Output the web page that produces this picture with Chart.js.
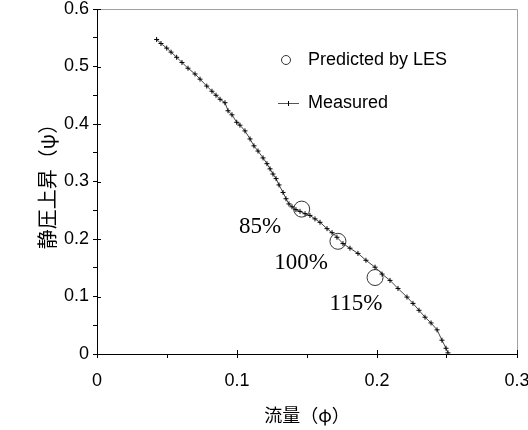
<!DOCTYPE html>
<html>
<head>
<meta charset="utf-8">
<script src="https://cdn.jsdelivr.net/npm/chart.js@4.4.0/dist/chart.umd.min.js"></script>
<style>
  html, body { margin: 0; padding: 0; background: #fff; }
</style>
</head>
<body>
<canvas id="chart" width="528" height="430"></canvas>
<script>
// measured characteristic, flow (phi) vs static pressure rise (psi)
const measuredFlow = [
  0.0426, 0.0457, 0.0498, 0.0529, 0.0569, 0.0607, 0.0650, 0.0700, 0.0736, 0.0784,
  0.0821, 0.0850, 0.0879, 0.0914, 0.0936, 0.0964, 0.0998, 0.1021, 0.1057, 0.1093,
  0.1121, 0.1150, 0.1186, 0.1214, 0.1236, 0.1257, 0.1279, 0.1300, 0.1329, 0.1350,
  0.1371, 0.1393, 0.1421, 0.1450, 0.1486, 0.1521, 0.1557, 0.1593, 0.1643, 0.1679,
  0.1714, 0.1757, 0.1807, 0.1864, 0.1921, 0.1986, 0.2036, 0.2093, 0.2150, 0.2214,
  0.2257, 0.2300, 0.2343, 0.2386, 0.2429, 0.2464, 0.2493, 0.2507,
];
const measuredRise = [
  0.547, 0.540, 0.532, 0.525, 0.516, 0.507, 0.497, 0.487, 0.478, 0.466,
  0.457, 0.450, 0.443, 0.437, 0.423, 0.416, 0.403, 0.398, 0.388, 0.374,
  0.362, 0.353, 0.341, 0.331, 0.322, 0.313, 0.305, 0.294, 0.281, 0.270,
  0.261, 0.256, 0.251, 0.248, 0.244, 0.241, 0.235, 0.229, 0.218, 0.211,
  0.203, 0.192, 0.184, 0.175, 0.163, 0.151, 0.139, 0.128, 0.114, 0.099,
  0.088, 0.076, 0.064, 0.054, 0.042, 0.024, 0.010, 0.002,
];

// LES predictions
const lesFlow = [0.1462, 0.1721, 0.1986];
const lesRise = [0.252, 0.196, 0.133];
const lesNames = ['85%', '100%', '115%'];
const lesNameFlow = [0.1164, 0.1457, 0.1850];
const lesNameRise = [0.2216, 0.1576, 0.0866];

const xTickLabels = ['0', '', '0.1', '', '0.2', '', '0.3'];
const yTickLabels = ['0', '', '0.1', '', '0.2', '', '0.3', '', '0.4', '', '0.5', '', '0.6'];

const sansFont = 'Liberation Sans, Arial, sans-serif';
const cjkFont = 'Noto Sans CJK JP, sans-serif';

const framePlugin = {
  id: 'frame',
  beforeDatasetsDraw(chart) {
    const { ctx, chartArea: a } = chart;
    ctx.save();
    ctx.strokeStyle = '#a0a0a0';
    ctx.lineWidth = 1;
    ctx.beginPath();
    ctx.moveTo(a.left, a.top + 0.5);
    ctx.lineTo(a.right + 0.5, a.top + 0.5);
    ctx.lineTo(a.right + 0.5, a.bottom);
    ctx.stroke();
    ctx.restore();
  },
  afterDraw(chart) {
    // major ticks also reach into the plot
    const { ctx, chartArea: a, scales: { x, y } } = chart;
    ctx.save();
    ctx.strokeStyle = '#000';
    ctx.lineWidth = 1;
    ctx.beginPath();
    x.ticks.forEach((t, i) => {
      if (!xTickLabels[i]) return;
      const px = Math.round(x.getPixelForValue(t.value)) + 0.5;
      ctx.moveTo(px, a.bottom);
      ctx.lineTo(px, a.bottom - 4);
    });
    y.ticks.forEach((t, i) => {
      if (!yTickLabels[i]) return;
      const py = Math.round(y.getPixelForValue(t.value)) + 0.5;
      ctx.moveTo(a.left, py);
      ctx.lineTo(a.left + 4, py);
    });
    ctx.stroke();
    ctx.restore();
  },
};

const notesPlugin = {
  id: 'notes',
  afterDatasetsDraw(chart) {
    const { ctx, chartArea: a, scales: { x, y } } = chart;
    ctx.save();
    ctx.fillStyle = '#000';
    ctx.textBaseline = 'middle';

    ctx.font = '23px Liberation Serif, Times New Roman, serif';
    ctx.textAlign = 'center';
    lesNames.forEach((name, i) => {
      ctx.fillText(name, x.getPixelForValue(lesNameFlow[i]), y.getPixelForValue(lesNameRise[i]));
    });

    // legend
    const lx = a.left + 189;
    const ly = a.top + 51;
    ctx.strokeStyle = '#333';
    ctx.lineWidth = 1;
    ctx.beginPath();
    ctx.arc(lx, ly, 4.5, 0, Math.PI * 2);
    ctx.stroke();
    ctx.strokeStyle = '#555';
    ctx.beginPath();
    ctx.moveTo(lx - 8, ly + 43.5);
    ctx.lineTo(lx + 13, ly + 43.5);
    ctx.stroke();
    ctx.strokeStyle = '#000';
    ctx.beginPath();
    ctx.moveTo(lx + 2.5, ly + 41);
    ctx.lineTo(lx + 2.5, ly + 46);
    ctx.stroke();

    ctx.font = '18px ' + sansFont;
    ctx.textAlign = 'left';
    ctx.fillText('Predicted by LES', lx + 22, ly);
    ctx.fillText('Measured', lx + 22, ly + 43);
    ctx.restore();
  },
};

const ctx = document.getElementById('chart').getContext('2d');
new Chart(ctx, {
  type: 'scatter',
  data: {
    datasets: [
      {
        label: 'Measured',
        data: measuredFlow.map((v, i) => ({ x: v, y: measuredRise[i] })),
        showLine: true,
        borderColor: '#444',
        borderWidth: 1,
        pointStyle: 'cross',
        pointRadius: 2.5,
        pointBorderColor: '#000',
        pointBorderWidth: 1,
      },
      {
        label: 'Predicted by LES',
        data: lesFlow.map((v, i) => ({ x: v, y: lesRise[i] })),
        showLine: false,
        pointStyle: 'circle',
        pointRadius: 8,
        pointBackgroundColor: 'rgba(0,0,0,0)',
        pointBorderColor: '#333',
        pointBorderWidth: 1,
      },
    ],
  },
  options: {
    responsive: false,
    animation: false,
    events: [],
    layout: { padding: { top: 7, right: 11, left: 0, bottom: 0 } },
    plugins: { legend: { display: false }, tooltip: { enabled: false } },
    scales: {
      x: {
        type: 'linear',
        min: 0,
        max: 0.3,
        ticks: {
          stepSize: 0.05,
          callback: (v, i) => xTickLabels[i],
          font: { family: sansFont, size: 18 },
          color: '#000',
          padding: 12,
          maxRotation: 0,
          autoSkip: false,
        },
        grid: { drawOnChartArea: false, tickLength: 4, color: '#000' },
        border: { color: '#000', width: 1 },
        title: {
          display: true,
          text: '流量（φ）',
          font: { family: cjkFont, size: 18 },
          color: '#000',
          padding: { top: 0, bottom: 4 },
        },
        afterFit(s) {
          s.height = 76;
          s.paddingLeft = 0;
          s.paddingRight = 0;
        },
      },
      y: {
        type: 'linear',
        min: 0,
        max: 0.6,
        ticks: {
          stepSize: 0.05,
          callback: (v, i) => yTickLabels[i],
          font: { family: sansFont, size: 18 },
          color: '#000',
          padding: 4,
          autoSkip: false,
        },
        grid: { drawOnChartArea: false, tickLength: 4, color: '#000' },
        border: { color: '#000', width: 1 },
        title: {
          display: true,
          text: '静圧上昇（ψ）',
          font: { family: cjkFont, size: 20 },
          color: '#000',
          padding: { top: 35, bottom: 0 },
        },
        afterFit(s) {
          s.width = 97;
          s.paddingTop = 0;
          s.paddingBottom = 0;
        },
      },
    },
  },
  plugins: [framePlugin, notesPlugin],
});
</script>
</body>
</html>
